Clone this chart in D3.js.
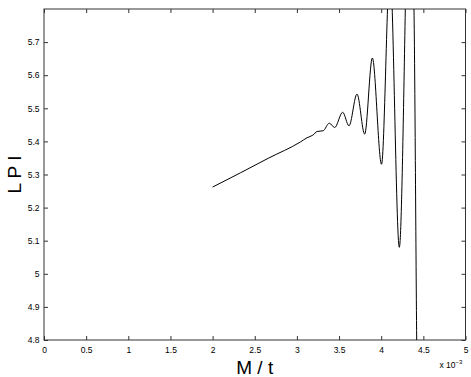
<!DOCTYPE html>
<html>
<head>
<meta charset="utf-8">
<script src="https://cdn.jsdelivr.net/npm/d3@7"></script>
<style>
  html, body { margin: 0; padding: 0; background: #fff; }
  svg { display: block; font-family: "Liberation Sans", Arial, Helvetica, sans-serif; }
</style>
</head>
<body>
<svg id="chart" width="471" height="377"></svg>
<script>
// ---- data (x in units of 1e-3) ----
const xTickLabels = ["0", "0.5", "1", "1.5", "2", "2.5", "3", "3.5", "4", "4.5", "5"];
const yTickLabels = ["4.8", "4.9", "5", "5.1", "5.2", "5.3", "5.4", "5.5", "5.6", "5.7"];
const curveX = [2.00, 2.33, 2.66, 3.04, 3.12, 3.19, 3.24, 3.31, 3.385, 3.448, 3.543, 3.618, 3.713, 3.804, 3.895, 4.004, 4.104, 4.215, 4.338, 4.389, 4.421, 4.44];
const curveY = [5.262, 5.305, 5.349, 5.398, 5.411, 5.419, 5.430, 5.432, 5.455, 5.442, 5.488, 5.447, 5.543, 5.422, 5.652, 5.331, 5.92, 5.080, 6.25, 5.80, 4.80, 4.30];
const xLabel = "M / t";
const yLabel = "L P I";

// ---- layout ----
const W = 471, H = 377;
const mLeft = 44, mRight = 465.5, mTop = 9, mBottom = 340;

const svg = d3.select("#chart");
const x = d3.scaleLinear().domain([0, 5]).range([mLeft, mRight]);
const y = d3.scaleLinear().domain([4.8, 5.8]).range([mBottom, mTop]);

const xVals = xTickLabels.map(Number);
const yVals = yTickLabels.map(Number);
const axisColor = "#333";

function styleAxis(g) {
  g.select(".domain").remove();
  g.selectAll(".tick line").attr("stroke", axisColor).attr("stroke-width", 1);
  g.selectAll(".tick text").attr("fill", "#000").attr("font-size", 8.5);
}

// bottom
svg.append("g").attr("transform", `translate(0,${mBottom})`)
  .call(d3.axisBottom(x).tickValues(xVals).tickFormat((d, i) => xTickLabels[i]).tickSizeInner(-4).tickSizeOuter(0).tickPadding(7))
  .call(styleAxis);
// top
svg.append("g").attr("transform", `translate(0,${mTop})`)
  .call(d3.axisTop(x).tickValues(xVals).tickFormat("").tickSizeInner(-4).tickSizeOuter(0))
  .call(styleAxis);
// left
svg.append("g").attr("transform", `translate(${mLeft},0)`)
  .call(d3.axisLeft(y).tickValues(yVals).tickFormat((d, i) => yTickLabels[i]).tickSizeInner(-4).tickSizeOuter(0).tickPadding(4.5))
  .call(styleAxis);
// right
svg.append("g").attr("transform", `translate(${mRight},0)`)
  .call(d3.axisRight(y).tickValues(yVals).tickFormat("").tickSizeInner(-4).tickSizeOuter(0))
  .call(styleAxis);

// frame
svg.append("rect")
  .attr("x", mLeft).attr("y", mTop)
  .attr("width", mRight - mLeft).attr("height", mBottom - mTop)
  .attr("fill", "none").attr("stroke", axisColor).attr("stroke-width", 1);

// clip
svg.append("clipPath").attr("id", "plotclip")
  .append("rect").attr("x", mLeft).attr("y", mTop).attr("width", mRight - mLeft).attr("height", mBottom - mTop);

const pts = curveX.map((v, i) => [v, curveY[i]]);
const line = d3.line().x(d => x(d[0])).y(d => y(d[1])).curve(d3.curveMonotoneX);
svg.append("path")
  .attr("clip-path", "url(#plotclip)")
  .attr("d", line(pts))
  .attr("fill", "none").attr("stroke", "#000").attr("stroke-width", 1);

// axis labels
svg.append("text")
  .attr("x", (mLeft + mRight) / 2).attr("y", 374)
  .attr("text-anchor", "middle").attr("font-size", 19).attr("fill", "#000")
  .text(xLabel);

svg.append("text")
  .attr("transform", `translate(20.5,${(mTop + mBottom) / 2}) rotate(-90)`)
  .attr("text-anchor", "middle").attr("font-size", 19).attr("fill", "#000")
  .text(yLabel);

// exponent
const ex = svg.append("text").attr("x", 439.5).attr("y", 368).attr("font-size", 8.5).attr("fill", "#000");
ex.append("tspan").text("x 10");
ex.append("tspan").attr("dy", -4).attr("font-size", 6).text("\u22123");
</script>
</body>
</html>
